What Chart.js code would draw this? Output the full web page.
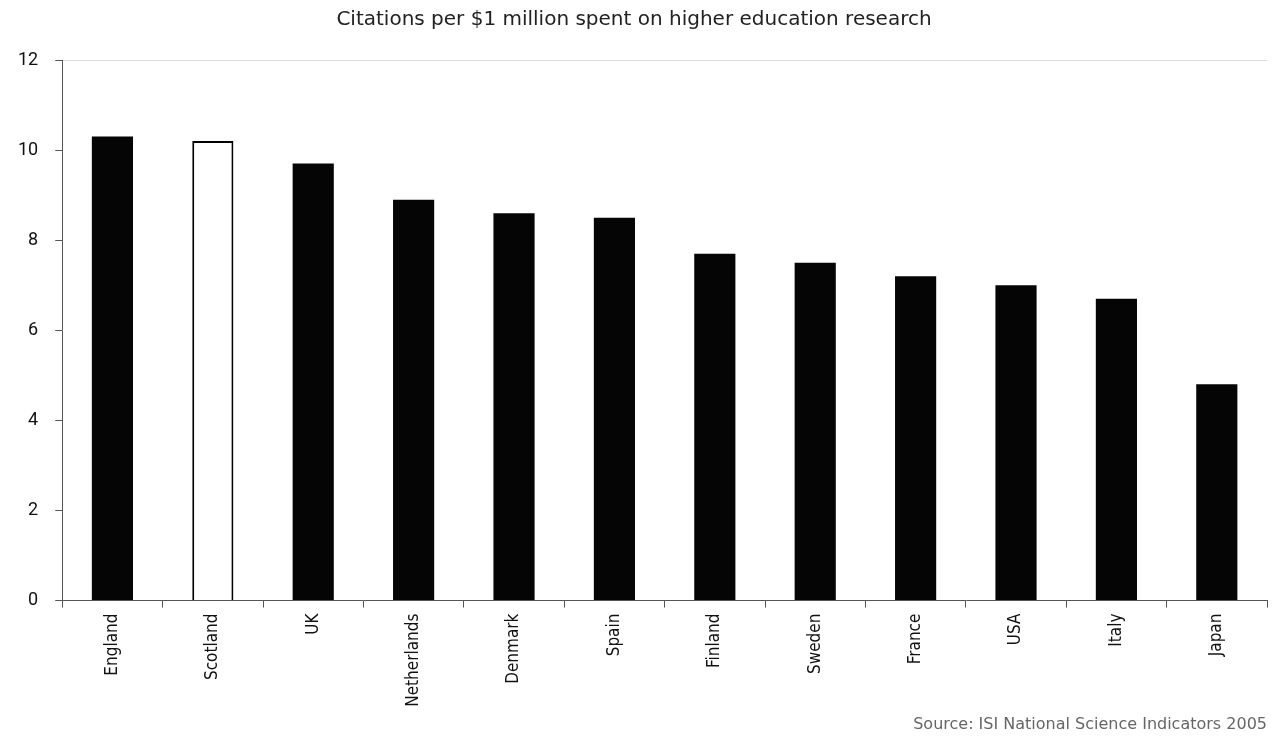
<!DOCTYPE html>
<html>
<head>
<meta charset="utf-8">
<script src="https://cdn.jsdelivr.net/npm/chart.js@4"></script>
<style>
  html, body { margin: 0; padding: 0; background: #fff; }
  #wrap { width: 1275px; height: 738px; }
</style>
</head>
<body>
<div id="wrap"><canvas id="myChart"></canvas></div>
<script>
const countries = ['England', 'Scotland', 'UK', 'Netherlands', 'Denmark', 'Spain',
  'Finland', 'Sweden', 'France', 'USA', 'Italy', 'Japan'];
const citations = [10.3, 10.2, 9.7, 8.9, 8.6, 8.5, 7.7, 7.5, 7.2, 7.0, 6.7, 4.8];
const yTicks = [0, 2, 4, 6, 8, 10, 12];

const titleText = 'Citations per $1 million spent on higher education research';
const sourceText = 'Source: ISI National Science Indicators 2005';

const ctx = document.getElementById('myChart').getContext('2d');
const narrow = '"Liberation Sans Narrow", "DejaVu Sans Condensed", Roboto, sans-serif';

const myChart = new Chart(ctx, {
  type: 'bar',
  data: {
    labels: countries,
    datasets: [{
      data: citations,
      // Scotland is the hollow one
      backgroundColor: countries.map(c => c === 'Scotland' ? '#ffffff' : '#050505'),
      borderColor: countries.map(c => c === 'Scotland' ? '#000000' : '#050505'),
      borderWidth: countries.map(c => c === 'Scotland' ? 2 : 0),
      barPercentage: 0.82,
      categoryPercentage: 0.5
    }]
  },
  options: {
    responsive: true,
    maintainAspectRatio: false,
    animation: false,
    layout: { padding: { left: 1, right: 8, top: 0, bottom: 0 } },
    plugins: {
      legend: { display: false },
      tooltip: { enabled: false },
      title: {
        display: true,
        text: titleText,
        color: '#222',
        font: { family: '"DejaVu Sans", sans-serif', size: 20, weight: 'normal' },
        padding: { top: 8, bottom: 28 }
      },
      subtitle: {
        display: true,
        text: sourceText,
        position: 'bottom',
        align: 'end',
        color: '#666',
        font: { family: '"DejaVu Sans", sans-serif', size: 16, weight: 'normal' },
        padding: { top: 2, bottom: 4 }
      }
    },
    scales: {
      x: {
        border: { color: '#555', width: 1 },
        grid: {
          offset: true,
          drawOnChartArea: false,
          color: '#555',
          tickLength: 7
        },
        ticks: {
          color: '#111',
          minRotation: 90,
          maxRotation: 90,
          padding: 6,
          font: { family: narrow, size: 17 }
        }
      },
      y: {
        min: 0,
        max: 12,
        afterBuildTicks: axis => { axis.ticks = yTicks.map(v => ({ value: v })); },
        border: { color: '#555', width: 1 },
        grid: {
          color: c => c.tick && c.tick.value === 12 ? '#dddddd' : 'rgba(0,0,0,0)',
          tickColor: '#555',
          tickLength: 7
        },
        ticks: {
          color: '#111',
          padding: 17,
          font: { family: 'Roboto, sans-serif', size: 18 }
        }
      }
    }
  }
});
</script>
</body>
</html>
